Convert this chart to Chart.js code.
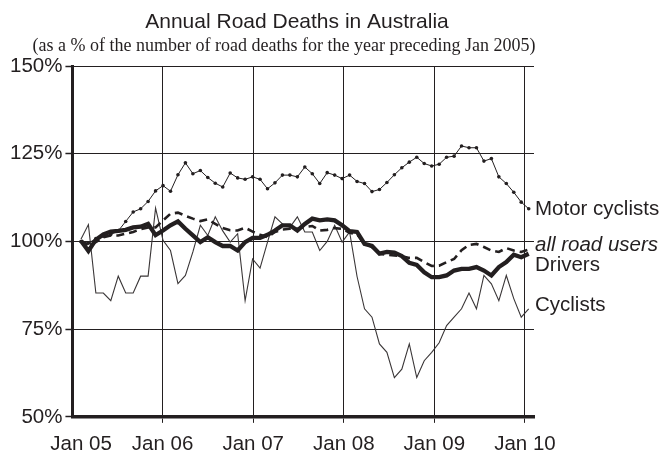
<!DOCTYPE html>
<html>
<head>
<meta charset="utf-8">
<script src="https://cdn.jsdelivr.net/npm/chart.js@4"></script>
<style>
  html, body { margin: 0; padding: 0; background: #fff; }
  #wrap { width: 662px; height: 452px; position: relative; }
</style>
</head>
<body>
<div id="wrap"><canvas id="chartDeaths"></canvas></div>
<script>
// Annual road deaths, % of the year preceding Jan 2005, monthly Jan 05 .. Jan 10
const yearLabels = ['Jan 05', 'Jan 06', 'Jan 07', 'Jan 08', 'Jan 09', 'Jan 10'];
const yTicks = [50, 75, 100, 125, 150];

const motorCyclists = [100, 99.5, 100.8, 101.5, 102, 103, 105.7, 108.4, 109.3, 111.4,
  114.4, 115.9, 114.3, 119, 122.4, 119.3, 120.2, 118.2, 116.6, 115.5,
  119.5, 118.1, 117.7, 118.4, 117.7, 115, 116.7, 118.9, 118.9, 118.4,
  121.2, 119.3, 116.5, 119.6, 118.9, 117.9, 118.9, 117.1, 116.5, 114.2,
  114.8, 116.8, 119, 121, 122.6, 124, 122.2, 121.5, 122, 124,
  124.3, 127.2, 126.7, 126.7, 122.9, 123.6, 118.4, 116.5, 114, 111.2, 109.3];

const allRoadUsers = [100.2, 98.9, 99.8, 101.2, 101.7, 101.7, 102.2, 102.7, 103.5, 104,
  104, 106, 107.9, 108.2, 107.3, 106.5, 105.8, 106.3, 105, 103.8,
  103.2, 103.1, 103.9, 102.8, 101.9, 101.2, 102.7, 103.4, 103.6, 103.6,
  104.1, 104.4, 103.1, 103.3, 103.8, 103.6, 102.5, 102, 99.5, 98.4,
  96.5, 96.2, 96, 95.8, 95.3, 95.3, 94.1, 93, 93.1, 94.1,
  95, 97.5, 99, 99.3, 98.4, 97.4, 97, 98.1, 97.4, 97, 97.7];

const drivers = [100.2, 97.3, 100.5, 102, 102.8, 103, 103.3, 104, 104.2, 105,
  101.8, 103.1, 104.6, 105.7, 103.6, 101.7, 99.8, 101.2, 99.8, 98.7,
  98.7, 97.4, 99.8, 101, 101, 101.9, 103.1, 104.6, 104.6, 103.1,
  105, 106.5, 106, 106.3, 106, 104.6, 102.9, 102.7, 99.3, 98.7,
  96.5, 97, 96.8, 95.8, 93.9, 93.3, 91.2, 89.8, 89.8, 90.3,
  91.7, 92.2, 92.2, 92.7, 91.7, 90.3, 92.7, 94.1, 96.2, 95.5, 96.5];

const cyclists = [100.6, 104.8, 85.3, 85.3, 83.1, 90.1, 85.3, 85.3, 90.1, 90.1,
  109.5, 100.3, 97.4, 88, 90.3, 97, 104.6, 101.7, 107, 103,
  99.8, 102.2, 83.1, 95, 92.4, 99.8, 107, 105, 104, 107,
  102.7, 102.7, 97.4, 100, 104.6, 99.8, 102.7, 90, 80.8, 78.4,
  70.8, 68.4, 61.2, 63.6, 70.8, 61.2, 66, 68.4, 71.1, 76,
  78.4, 80.8, 85.3, 80.8, 90.3, 87.9, 83.1, 90.3, 83.7, 78.4, 80.8];

const ink = '#231f20';
const sans = "'Liberation Sans', Arial, sans-serif";
const toPoints = arr => arr.map((y, x) => ({ x, y }));

// titles drawn above the plot
const titlePlugin = {
  id: 'titles',
  afterDraw(chart) {
    const c = chart.ctx;
    c.save();
    c.fillStyle = ink;
    c.textAlign = 'center';
    c.textBaseline = 'alphabetic';
    c.font = '21px ' + sans;
    c.fillText('Annual Road Deaths in Australia', 297, 28);
    c.font = "18px 'Liberation Serif', 'Times New Roman', serif";
    c.fillText('(as a % of the number of road deaths for the year preceding Jan 2005)', 284, 51);
    c.restore();
  }
};

// series names written at the end of each line
const endLabels = {
  id: 'endLabels',
  afterDatasetsDraw(chart) {
    const c = chart.ctx;
    const y = chart.scales.y;
    const offsets = [6.5, 2, 17.5, 2.5];
    c.save();
    c.fillStyle = ink;
    c.textAlign = 'left';
    c.textBaseline = 'alphabetic';
    chart.data.datasets.forEach((ds, i) => {
      const last = ds.data[ds.data.length - 1].y;
      c.font = (i === 1 ? 'italic ' : '') + '20.5px ' + sans;
      c.fillText(ds.label, chart.chartArea.right + 1, y.getPixelForValue(last) + offsets[i]);
    });
    c.restore();
  }
};

const ctx = document.getElementById('chartDeaths').getContext('2d');

const chartDeaths = new Chart(ctx, {
  type: 'line',
  data: {
    datasets: [
      {
        label: 'Motor cyclists',
        data: toPoints(motorCyclists),
        borderColor: ink,
        borderWidth: 1,
        pointRadius: 1.8,
        pointBackgroundColor: ink,
        pointBorderWidth: 0
      },
      {
        label: 'all road users',
        data: toPoints(allRoadUsers),
        borderColor: ink,
        borderWidth: 2.6,
        borderDash: [8, 5],
        pointRadius: 0
      },
      {
        label: 'Drivers',
        data: toPoints(drivers),
        borderColor: ink,
        borderWidth: 4.3,
        pointRadius: 0
      },
      {
        label: 'Cyclists',
        data: toPoints(cyclists),
        borderColor: '#3a3637',
        borderWidth: 1.1,
        pointRadius: 0
      }
    ]
  },
  options: {
    responsive: true,
    maintainAspectRatio: false,
    animation: false,
    layout: { padding: { top: 66, left: 7, right: 128, bottom: -14 } },
    elements: { line: { tension: 0 } },
    plugins: {
      legend: { display: false },
      tooltip: { enabled: false }
    },
    scales: {
      x: { type: 'linear', display: false, min: -1.14, max: 60.71 },
      years: {
        type: 'linear',
        position: 'bottom',
        min: 0.004,
        max: 5.1,
        afterBuildTicks: axis => {
          // first label sits just right of the y axis, not on it
          axis.ticks = yearLabels.map((t, k) => ({ value: k === 0 ? 0.1 : k }));
        },
        ticks: {
          autoSkip: false,
          maxRotation: 0,
          padding: 18.5,
          color: ink,
          font: { family: sans, size: 20.5, lineHeight: 0.3 },
          callback: (v, i) => yearLabels[i]
        },
        grid: {
          color: c => (c.index === 0 ? 'rgba(0,0,0,0)' : ink),
          lineWidth: 1,
          tickLength: 6
        },
        border: { display: true, color: ink, width: 3.5 }
      },
      y: {
        min: 50,
        max: 150,
        afterBuildTicks: axis => { axis.ticks = yTicks.map(v => ({ value: v })); },
        ticks: {
          padding: 3,
          color: ink,
          font: { family: sans, size: 20.5 },
          callback: v => v + '%'
        },
        grid: { color: ink, lineWidth: 1, tickLength: 7, tickWidth: 1.5 },
        border: { display: true, color: ink, width: 3 }
      }
    }
  },
  plugins: [titlePlugin, endLabels]
});
</script>
</body>
</html>
